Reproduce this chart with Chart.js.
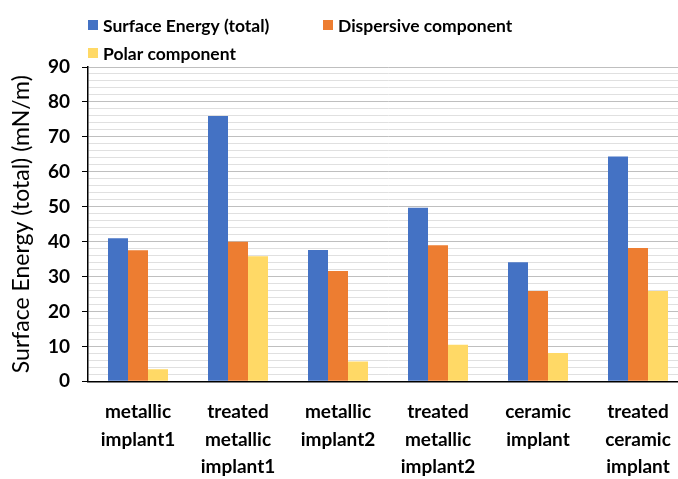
<!DOCTYPE html>
<html>
<head>
<meta charset="utf-8">
<script src="https://cdn.jsdelivr.net/npm/chart.js@4"></script>
<style>
  html, body { margin: 0; padding: 0; background: #fff; overflow: hidden; }
  #wrap { width: 690px; height: 498px; }
</style>
</head>
<body>
<div id="wrap"><canvas id="energy-chart"></canvas></div>
<script>
const categories = [
  ['metallic', 'implant1'],
  ['treated', 'metallic', 'implant1'],
  ['metallic', 'implant2'],
  ['treated', 'metallic', 'implant2'],
  ['ceramic', 'implant'],
  ['treated', 'ceramic', 'implant'],
]
const totalEnergy = [41.0, 76.0, 37.6, 49.7, 34.1, 64.4]
const dispersive = [37.5, 40.0, 31.6, 39.0, 25.9, 38.2]
const polar = [3.5, 35.8, 5.7, 10.5, 8.1, 25.9]
const yTicks = [0, 10, 20, 30, 40, 50, 60, 70, 80, 90]

const FONT = 'Lato, "Open Sans", sans-serif'

// legend drawn by hand: two on the first row, one below, left aligned
const topLegend = {
  id: 'topLegend',
  afterDraw(chart) {
    const c = chart.ctx
    const spots = [[88, 25], [323, 25], [88, 53]]
    c.save()
    c.font = `bold 17.5px ${FONT}`
    c.textBaseline = 'middle'
    chart.data.datasets.forEach((ds, i) => {
      const [x, y] = spots[i]
      c.fillStyle = ds.backgroundColor
      c.fillRect(x, y - 5, 10, 10)
      c.fillStyle = '#000'
      c.fillText(ds.label, x + 15, y + 1)
    })
    c.restore()
  },
}

const ctx = document.getElementById('energy-chart').getContext('2d')
new Chart(ctx, {
  type: 'bar',
  data: {
    labels: categories,
    datasets: [
      { label: 'Surface Energy (total)', data: totalEnergy, backgroundColor: '#4472C4' },
      { label: 'Dispersive component', data: dispersive, backgroundColor: '#ED7D31' },
      { label: 'Polar component', data: polar, backgroundColor: '#FFD966' },
    ],
  },
  options: {
    responsive: true,
    maintainAspectRatio: false,
    animation: false,
    devicePixelRatio: 1,
    layout: { padding: { top: 67, right: 2, bottom: 0, left: 0 } },
    datasets: { bar: { categoryPercentage: 0.6, barPercentage: 1 } },
    plugins: { legend: { display: false }, tooltip: { enabled: false } },
    scales: {
      x: {
        grid: { display: false, drawTicks: false },
        border: { display: true, color: '#000', width: 1.5 },
        ticks: {
          color: '#000',
          padding: 17,
          maxRotation: 0,
          autoSkip: false,
          font: { family: FONT, size: 19, weight: 'bold', lineHeight: 1.45 },
        },
      },
      y: {
        min: 0,
        max: 90,
        afterFit(scale) { scale.width = 88 },
        ticks: {
          stepSize: 2,
          autoSkip: false,
          padding: 12,
          color: '#000',
          font: { family: FONT, size: 19, weight: 'bold' },
          callback: (v) => (yTicks.includes(v) ? v : ''),
        },
        grid: {
          tickLength: 6,
          color: (c) => (c.tick && c.tick.value % 10 === 0 ? '#bfbfbf' : '#e0e0e0'),
          tickColor: (c) => (c.tick && c.tick.value % 10 === 0 ? '#000' : 'rgba(0,0,0,0)'),
        },
        border: { display: true, color: '#000', width: 1.5 },
        title: {
          display: true,
          text: 'Surface Energy (total) (mN/m)',
          color: '#000',
          padding: { top: 8, bottom: 0 },
          font: { family: FONT, size: 23 },
        },
      },
    },
  },
  plugins: [topLegend],
})
</script>
</body>
</html>
